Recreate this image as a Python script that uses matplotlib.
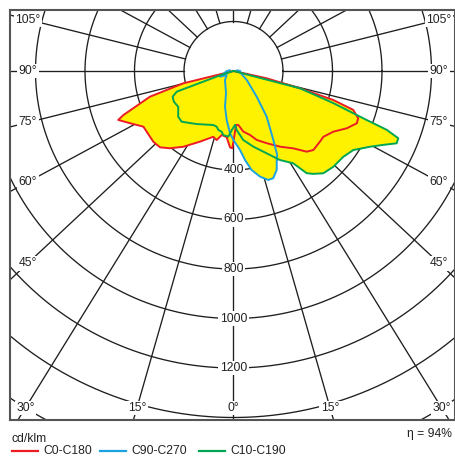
import numpy as np
import matplotlib.pyplot as plt

plt.rcParams['font.family'] = ['Liberation Sans', 'DejaVu Sans']

# Intensity curves in cd/klm, gamma in degrees:
# negative gamma = C180 / C270 / C190 half, positive = C0 / C90 / C10 half
c0_gamma = [-90, -76.2, -72.9, -68.2, -67.0, -63.2, -58.3, -55.0, -48.6, -43.9,
            -39.4, -33.5, -25.4, -17.1, -13.7, -10.4, -5.9, -2.6, -0.9, 0.4,
            2.7, 5.1, 9.2, 14.5, 18.6, 24.7, 31.6, 37.7, 42.2, 45.3,
            50.7, 53.8, 58.7, 63.2, 67.0, 69.2, 72.0, 73.8, 75.4, 77.6, 90]
c0_cd = [0, 209, 353, 479, 506, 468, 428, 428, 432, 428,
         404, 367, 316, 278, 287, 263, 269, 309, 312, 272,
         218, 219, 248, 267, 294, 321, 359, 395, 440, 454,
         451, 450, 472, 513, 541, 539, 509, 420, 278, 137, 0]

c90_gamma = [-100, -90, -67, -59.5, -43.4, -18.6, -13.4, -7.9, -3.2, 0,
             4.7, 7.4, 10.4, 14.1, 17.7, 20.3, 23.6, 25.9, 27.6, 30.0,
             36.0, 42.1, 55.7, 75, 90, 100]
c90_cd = [15, 27, 59, 32, 50, 95, 148, 200, 252, 279,
          320, 363, 407, 440, 462, 462, 436, 400, 380, 322,
          228, 140, 65, 30, 27, 15]

c10_gamma = [-90, -72, -70, -67.1, -62.7, -57.1, -50.4, -45.6, -34.8, -20.5,
             -16.8, -14.4, -11, -9.1, -4.5, -1.7, 1.6, 3.1, 8.1, 14.7,
             22, 27.6, 32.9, 35.6, 37.8, 41.3, 46.2, 52, 56.6, 61,
             63.7, 66.1, 67.8, 69, 69.8, 72.2, 75.4, 90]
c10_cd = [0, 60, 244, 267, 271, 266, 290, 293, 261, 233,
          235, 246, 250, 262, 266, 239, 218, 239, 282, 316,
          359, 406, 444, 508, 526, 550, 559, 563, 580, 631,
          674, 721, 719, 663, 573, 422, 278, 0]

curve_names = ['C0-C180', 'C90-C270', 'C10-C190']
curve_colors = ['#ec1c24', '#1aa3e0', '#00a651']
fill_color = '#fff200'
efficiency = 94

ring_values = np.arange(200, 2000, 200)
ring_labelled = [400, 600, 800, 1000, 1200]
spoke_angles = np.arange(0, 360, 15)
angle_labels = [-105, -90, -75, -60, -45, -30, -15, 0, 15, 30, 45, 60, 75, 90, 105]
spoke_skew = 1.07

W, H = 456, 459
scale = 0.2475            # pixels per cd/klm
cx, cy = 233.5, 71        # pole position in pixels
x0, x1, y0, y1 = 10, 455, 10, 420


def to_xy(gamma, cd):
    g = np.radians(np.asarray(gamma, float))
    cd = np.asarray(cd, float)
    return cd * np.sin(g), -cd * np.cos(g)


fig = plt.figure(figsize=(W / 100, H / 100), dpi=100)
ax = fig.add_axes([x0 / W, 1 - y1 / H, (x1 - x0) / W, (y1 - y0) / H])
ax.set_xlim((x0 - cx) / scale, (x1 - cx) / scale)
ax.set_ylim((cy - y1) / scale, (cy - y0) / scale)
ax.set_xticks([])
ax.set_yticks([])
for s in ax.spines.values():
    s.set_color('#555555')
    s.set_linewidth(1.5)

grid_kw = dict(color='#1e1e1e', lw=0.95, zorder=1)
t = np.linspace(0, 2 * np.pi, 721)
for r in ring_values:
    ax.plot(r * np.cos(t), r * np.sin(t), **grid_kw)
for a in spoke_angles:
    ar = np.radians(a)
    d = np.array([spoke_skew * np.sin(ar), -np.cos(ar)])
    d /= np.hypot(*d)
    ax.plot([200 * d[0], 3000 * d[0]], [200 * d[1], 3000 * d[1]], **grid_kw)

label_kw = dict(fontsize=8.7, color='#222222', ha='center', va='center', zorder=3,
                bbox=dict(boxstyle='square,pad=0.12', fc='white', ec='none'))
for r in ring_labelled:
    ax.text(0, -r, str(r), **label_kw)

side_x = (28 - cx) / scale
base_y = (cy - 408) / scale
for a in angle_labels:
    ar = np.radians(abs(a))
    if abs(a) >= 45:
        x = np.sign(a) * abs(side_x)
        y = -abs(x) * np.cos(ar) / (spoke_skew * np.sin(ar))
    else:
        y = base_y
        x = -y * spoke_skew * np.tan(np.radians(a))
    ax.text(x, y, f'{abs(a)}°', **label_kw)

curves = [(c0_gamma, c0_cd), (c90_gamma, c90_cd), (c10_gamma, c10_cd)]
for g, cd in curves:
    x, y = to_xy(g, cd)
    ax.fill(x, y, color=fill_color, lw=0, zorder=2)
for (g, cd), col in zip(curves, curve_colors):
    x, y = to_xy(g, cd)
    ax.plot(x, y, color=col, lw=1.4, zorder=4, solid_joinstyle='round')

# legend and efficiency below the diagram
fig.text(12 / W, 1 - 439 / H, 'cd/klm', fontsize=8.7, color='#222222', va='center')
fig.text(452 / W, 1 - 434 / H, f'η = {efficiency}%', fontsize=8.7, color='#222222',
         va='center', ha='right')
leg_y = 1 - 451 / H
for name, col, lx in zip(curve_names, curve_colors, [12, 100, 199]):
    fig.add_artist(plt.Line2D([lx / W, (lx + 26) / W], [leg_y, leg_y], color=col, lw=1.6))
    fig.text((lx + 31) / W, leg_y, name, fontsize=8.7, color='#222222', va='center')

fig.savefig('out.png', dpi=100)
